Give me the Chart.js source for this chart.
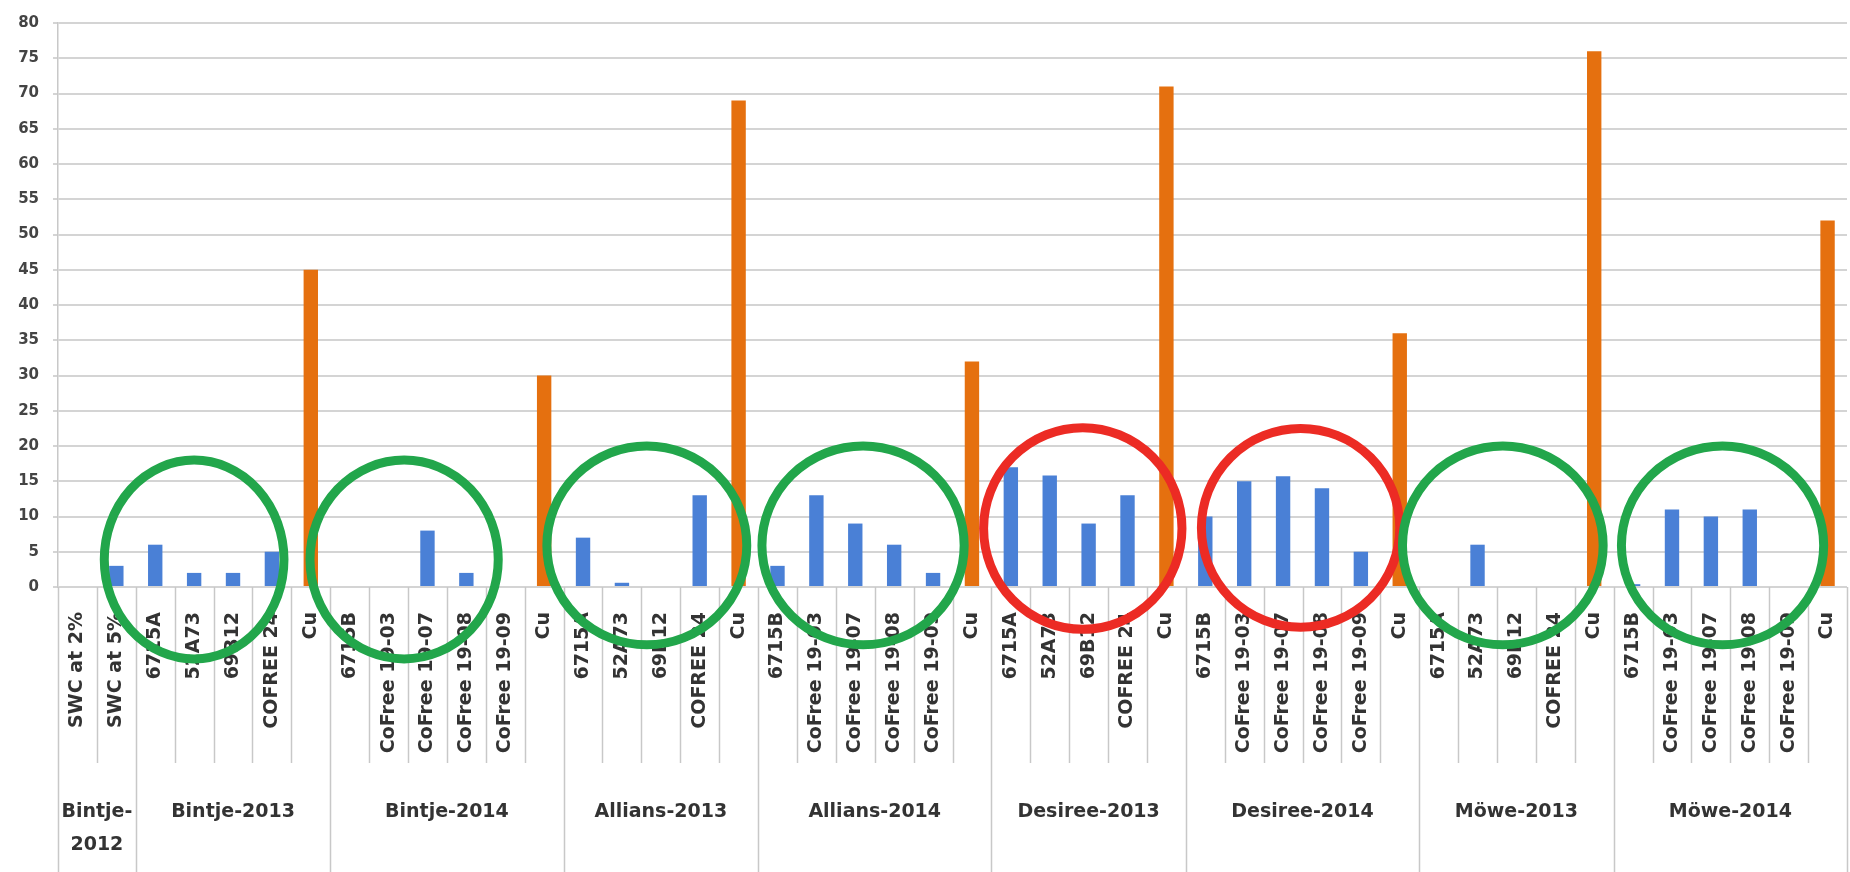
<!DOCTYPE html>
<html>
<head>
<meta charset="utf-8">
<script src="https://cdn.jsdelivr.net/npm/chart.js@4.4.1/dist/chart.umd.min.js"></script>
<style>
    html, body { margin: 0; padding: 0; background: #fff; }
    #wrap { width: 1850px; height: 872px; position: relative; }
</style>
</head>
<body>
<div id="wrap"><canvas id="barChart"></canvas></div>
<script>
// Categorias (primer nivel del eje X)
const categories = [
    'SWC at 2%', 'SWC at 5%',
    '6715A', '52A73', '69B12', 'COFREE 24', 'Cu',
    '6715B', 'CoFree 19-03', 'CoFree 19-07', 'CoFree 19-08', 'CoFree 19-09', 'Cu',
    '6715A', '52A73', '69B12', 'COFREE 24', 'Cu',
    '6715B', 'CoFree 19-03', 'CoFree 19-07', 'CoFree 19-08', 'CoFree 19-09', 'Cu',
    '6715A', '52A73', '69B12', 'COFREE 24', 'Cu',
    '6715B', 'CoFree 19-03', 'CoFree 19-07', 'CoFree 19-08', 'CoFree 19-09', 'Cu',
    '6715A', '52A73', '69B12', 'COFREE 24', 'Cu',
    '6715B', 'CoFree 19-03', 'CoFree 19-07', 'CoFree 19-08', 'CoFree 19-09', 'Cu'
];

// Grupos (segundo nivel) y cuantas categorias tiene cada uno
const groupNames = ['Bintje-\n2012', 'Bintje-2013', 'Bintje-2014', 'Allians-2013', 'Allians-2014',
    'Desiree-2013', 'Desiree-2014', 'Möwe-2013', 'Möwe-2014'];
const groupSizes = [2, 5, 6, 5, 6, 5, 6, 5, 6];

// Tratamientos (azul)
const treatmentValues = [
    0, 3,
    6, 2, 2, 5, null,
    0, 0, 8, 2, 0, null,
    7, 0.6, 0, 13, null,
    3, 13, 9, 6, 2, null,
    17, 15.8, 9, 13, null,
    10, 15, 15.7, 14, 5, null,
    0, 6, 0, 0, null,
    0.4, 11, 10, 11, 0, null
];

// Cobre (naranja)
const copperValues = [
    null, null,
    null, null, null, null, 45,
    null, null, null, null, null, 30,
    null, null, null, null, 69,
    null, null, null, null, null, 32,
    null, null, null, null, 71,
    null, null, null, null, null, 36,
    null, null, null, null, 76,
    null, null, null, null, null, 52
];

const yMin = 0;
const yMax = 80;
const yStep = 5;

// Circulos marcados a mano: centro (indice de categoria, valor), radios (categorias, valor)
const circleCenters = [3.0, 8.4, 14.64, 20.2, 25.85, 31.45, 36.65, 42.3];
const circleValues = [3.9, 3.9, 5.9, 5.9, 8.3, 8.4, 5.9, 5.9];
const circleRx = [2.31, 2.42, 2.57, 2.6, 2.55, 2.55, 2.58, 2.6];
const circleRy = [14.1, 14.1, 14.1, 14.1, 14.3, 14.1, 14.1, 14.1];
const circleColors = ['#22a64b', '#22a64b', '#22a64b', '#22a64b', '#ec2b24', '#ec2b24', '#22a64b', '#22a64b'];

// Eje de dos niveles + circulos
const multiLevelAxis = {
    id: 'multiLevelAxis',
    afterDraw(chart) {
        const ctx = chart.ctx;
        const area = chart.chartArea;
        const xs = chart.scales.x;
        const ys = chart.scales.y;
        const step = (area.right - area.left) / categories.length;

        // limites de grupo
        const starts = [0];
        groupSizes.forEach(n => starts.push(starts[starts.length - 1] + n));

        ctx.save();
        ctx.strokeStyle = '#c8c8c8';
        ctx.lineWidth = 1.5;
        for (let i = 0; i <= categories.length; i++) {
            const px = Math.round(area.left + i * step) + 0.5;
            const isGroup = starts.includes(i);
            ctx.beginPath();
            ctx.moveTo(px, area.bottom);
            ctx.lineTo(px, isGroup ? chart.height : area.bottom + 176);
            ctx.stroke();
        }

        ctx.fillStyle = '#333';
        ctx.font = 'bold 19px "DejaVu Sans"';
        ctx.textAlign = 'center';
        ctx.textBaseline = 'middle';
        groupNames.forEach((name, g) => {
            const cx = area.left + (starts[g] + starts[g + 1]) / 2 * step;
            name.split('\n').forEach((line, k) => {
                ctx.fillText(line, cx, area.bottom + 225 + k * 33);
            });
        });

        ctx.lineWidth = 9;
        circleCenters.forEach((c, i) => {
            const cx = xs.getPixelForValue(0) + c * step;
            const cy = ys.getPixelForValue(circleValues[i]);
            const ry = Math.abs(ys.getPixelForValue(circleRy[i]) - ys.getPixelForValue(0));
            ctx.strokeStyle = circleColors[i];
            ctx.beginPath();
            ctx.ellipse(cx, cy, circleRx[i] * step, ry, 0, 0, Math.PI * 2);
            ctx.stroke();
        });
        ctx.restore();
    }
};

Chart.defaults.font.family = '"DejaVu Sans"';
Chart.defaults.animation = false;

const barCtx = document.getElementById('barChart').getContext('2d');
new Chart(barCtx, {
    type: 'bar',
    data: {
        labels: categories,
        datasets: [{
            label: 'Tratamiento',
            data: treatmentValues,
            backgroundColor: '#4a80d6',
            grouped: false,
            barPercentage: 0.37,
            categoryPercentage: 1
        }, {
            label: 'Cu',
            data: copperValues,
            backgroundColor: '#e5700f',
            grouped: false,
            barPercentage: 0.37,
            categoryPercentage: 1
        }]
    },
    options: {
        responsive: true,
        maintainAspectRatio: false,
        layout: {
            padding: { top: 18, right: 3, left: 0, bottom: 0 }
        },
        plugins: {
            legend: { display: false },
            tooltip: { enabled: false }
        },
        scales: {
            x: {
                grid: { display: false, drawTicks: false },
                border: { display: false },
                ticks: {
                    autoSkip: false,
                    minRotation: 90,
                    maxRotation: 90,
                    padding: 25,
                    color: '#333',
                    font: { size: 19, weight: 'bold' }
                },
                afterFit(scale) {
                    scale.height = 285;
                    scale.paddingLeft = 0;
                    scale.paddingRight = 0;
                }
            },
            y: {
                min: yMin,
                max: yMax,
                grid: {
                    color: '#d4d4d4',
                    lineWidth: 2,
                    drawTicks: true,
                    tickLength: 5
                },
                border: { display: true, color: '#c8c8c8', width: 1.5 },
                ticks: {
                    stepSize: yStep,
                    padding: 14,
                    color: '#444',
                    font: { size: 15, weight: 'bold' }
                },
                afterFit(scale) { scale.width = 58; }
            }
        }
    },
    plugins: [multiLevelAxis]
});
</script>
</body>
</html>
